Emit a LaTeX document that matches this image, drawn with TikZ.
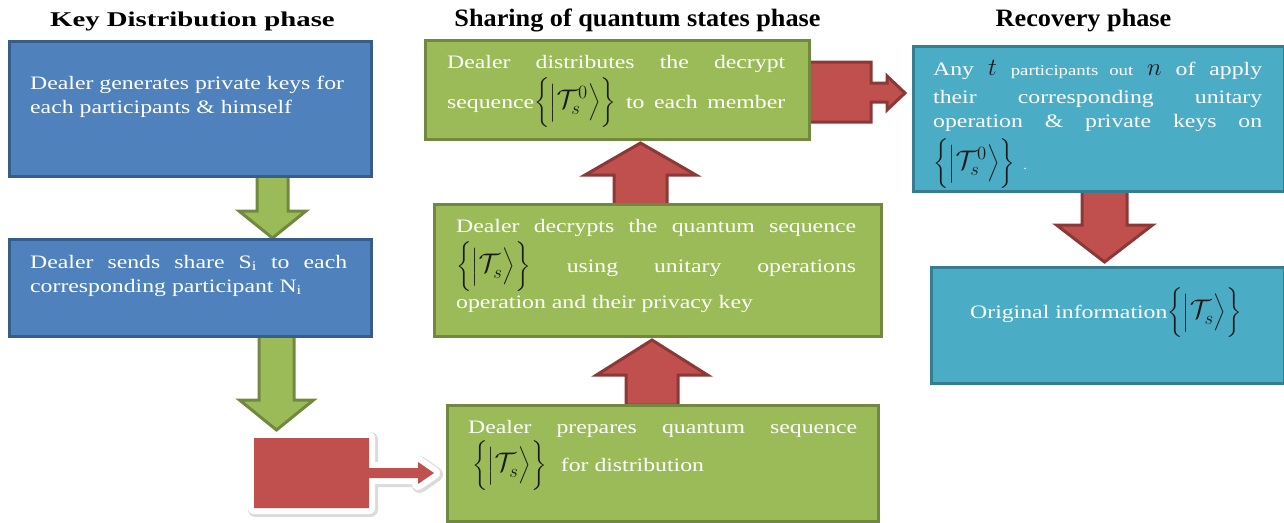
\documentclass[tikz,border=0pt]{standalone}
\usepackage{amsmath}
\usepackage{fontspec}
\setmainfont{Liberation Serif}[FakeStretch=1.25]
\newfontfamily\headfont{Liberation Serif}[FakeStretch=1.37]
\newfontfamily\headnarrow{Liberation Serif}[FakeStretch=1.05]

\definecolor{kblue}{HTML}{4F81BD}
\definecolor{kblueline}{HTML}{385D8A}
\definecolor{sgreen}{HTML}{9BBB59}
\definecolor{sgreenline}{HTML}{71893F}
\definecolor{rteal}{HTML}{4BACC6}
\definecolor{rtealline}{HTML}{357D91}
\definecolor{ared}{HTML}{C0504D}
\definecolor{aredline}{HTML}{8C3836}
\definecolor{mathink}{HTML}{1A1A1A}

% quantum sequence {|T_s^x>}
\newcommand\qstate[1]{\mbox{\color{mathink}\fontsize{20}{20}\selectfont
  $\biggl\{\Bigl|\scalebox{1.3}{$\mathcal{T}_{s}^{#1}$}\Bigr\rangle\biggr\}$}}
% a line spread to the given width
\newcommand\fullline[2]{\makebox[#1][s]{#2}}
% vertical block arrow: style, centre x, start y, half shaft, half head, head base y, tip y
\newcommand\vblock[7]{\draw[#1] ({#2-#4},#3) -- ({#2+#4},#3) -- ({#2+#4},#6)
  -- ({#2+#5},#6) -- (#2,#7) -- ({#2-#5},#6) -- ({#2-#4},#6) -- cycle;}
% red callout with a right-pointing arrow
\newcommand\calloutpath{(254,438) -- (369,438) -- (369,468) -- (418,468) -- (418,462)
  -- (434,473) -- (418,484) -- (418,478) -- (369,478) -- (369,508) -- (254,508) -- cycle}

\begin{document}
\begin{tikzpicture}[x=1pt, y=-1pt,
  box/.style={draw, line width=3pt, inner sep=0pt, anchor=north west},
  bluebox/.style={box, fill=kblue, draw=kblueline},
  greenbox/.style={box, fill=sgreen, draw=sgreenline},
  tealbox/.style={box, fill=rteal, draw=rtealline},
  garrow/.style={fill=sgreen, draw=sgreenline, line width=3pt},
  rarrow/.style={fill=ared, draw=aredline, line width=3pt},
  txt/.style={anchor=base west, inner sep=0pt, text=white, font=\fontsize{19}{24}\selectfont},
  title/.style={anchor=base, inner sep=0pt, text=black},
]
\useasboundingbox (0,0) rectangle (1284,522);

% column titles
\node[title, font=\headfont\bfseries\fontsize{21}{24}\selectfont] (t1) at (192.5,27) {Key Distribution phase};
\node[title, font=\headnarrow\bfseries\fontsize{25}{28}\selectfont] (t2) at (637.5,27) {Sharing of quantum states phase};
\node[title, font=\headnarrow\bfseries\fontsize{25}{28}\selectfont] (t3) at (1083.5,27) {Recovery phase};

% block arrows (drawn under the boxes)
\vblock{garrow}{272.5}{174}{15.5}{33.5}{211}{238}
\vblock{garrow}{276.5}{334}{17.5}{37}{400}{430}
\vblock{rarrow}{652}{405}{26}{55.5}{375}{340}
\vblock{rarrow}{640.5}{205}{26.5}{55.5}{175}{143}
\vblock{rarrow}{1104.5}{189}{22.5}{48}{225}{262}
\draw[rarrow, line join=miter] (805,62) -- (871,62) -- (871,83) -- (887,83) -- (887,76) -- (905,93)
  -- (887,110) -- (887,102) -- (871,102) -- (871,122) -- (805,122) -- cycle;

% callout into the preparation step
\draw[black!14, line width=15pt, line join=round, shift={(1.5,1.5)}] \calloutpath;
\draw[white, fill=white, line width=12pt, line join=round] \calloutpath;
\fill[ared] \calloutpath;

% boxes
\node[bluebox, minimum width=362pt, minimum height=135pt] (kd1) at (8,40) {};
\node[bluebox, minimum width=362pt, minimum height=97pt] (kd2) at (8,238) {};
\node[greenbox, minimum width=384pt, minimum height=99pt] (sq1) at (424,39) {};
\node[greenbox, minimum width=447pt, minimum height=132pt] (sq2) at (433,203) {};
\node[greenbox, minimum width=431pt, minimum height=116pt] (sq3) at (446,404) {};
\node[tealbox, minimum width=371pt, minimum height=145pt] (rc1) at (912,45) {};
\node[tealbox, minimum width=353pt, minimum height=116pt] (rc2) at (930,266) {};

% key distribution texts
\node[txt] (kd1a) at (30,89) {Dealer generates private keys for};
\node[txt] (kd1b) at (30,113) {each participants \& himself};
\node[txt] (kd2a) at (30,268) {\fullline{317pt}{Dealer sends share S\textsubscript{i} to each}};
\node[txt] (kd2b) at (30,292) {corresponding participant N\textsubscript{i}};

% sharing texts
\node[txt] (sq1a) at (447,68) {\fullline{338pt}{Dealer distributes the decrypt}};
\node[txt] (sq1b) at (447,108) {\fullline{338pt}{sequence\qstate{0} to each member}};
\node[txt] (sq2a) at (456,232) {\fullline{400pt}{Dealer decrypts the quantum sequence}};
\node[txt] (sq2b) at (456,272) {\fullline{400pt}{\qstate{} using unitary operations}};
\node[txt] (sq2c) at (456,308) {operation and their privacy key};
\node[txt] (sq3a) at (468,433) {\fullline{389pt}{Dealer prepares quantum sequence}};
\node[txt] (sq3b) at (472,471) {\qstate{}\hspace{14pt}for distribution};

% recovery texts
\node[txt] (rc1a) at (933,75) {\fullline{329pt}{Any \mbox{\color{mathink}\fontsize{28}{28}\selectfont$t$}
  {\fontsize{15}{15}\selectfont participants out} \mbox{\color{mathink}\fontsize{28}{28}\selectfont$n$} of apply}};
\node[txt] (rc1b) at (933,103) {\fullline{329pt}{their corresponding unitary}};
\node[txt] (rc1c) at (933,127) {\fullline{329pt}{operation \& private keys on}};
\node[txt] (rc1d) at (933,169) {\qstate{0}\hspace{8pt}{\fontsize{12}{12}\selectfont .}};
\node[txt] (rc2a) at (970,318) {Original information\qstate{}};
\end{tikzpicture}
\end{document}
